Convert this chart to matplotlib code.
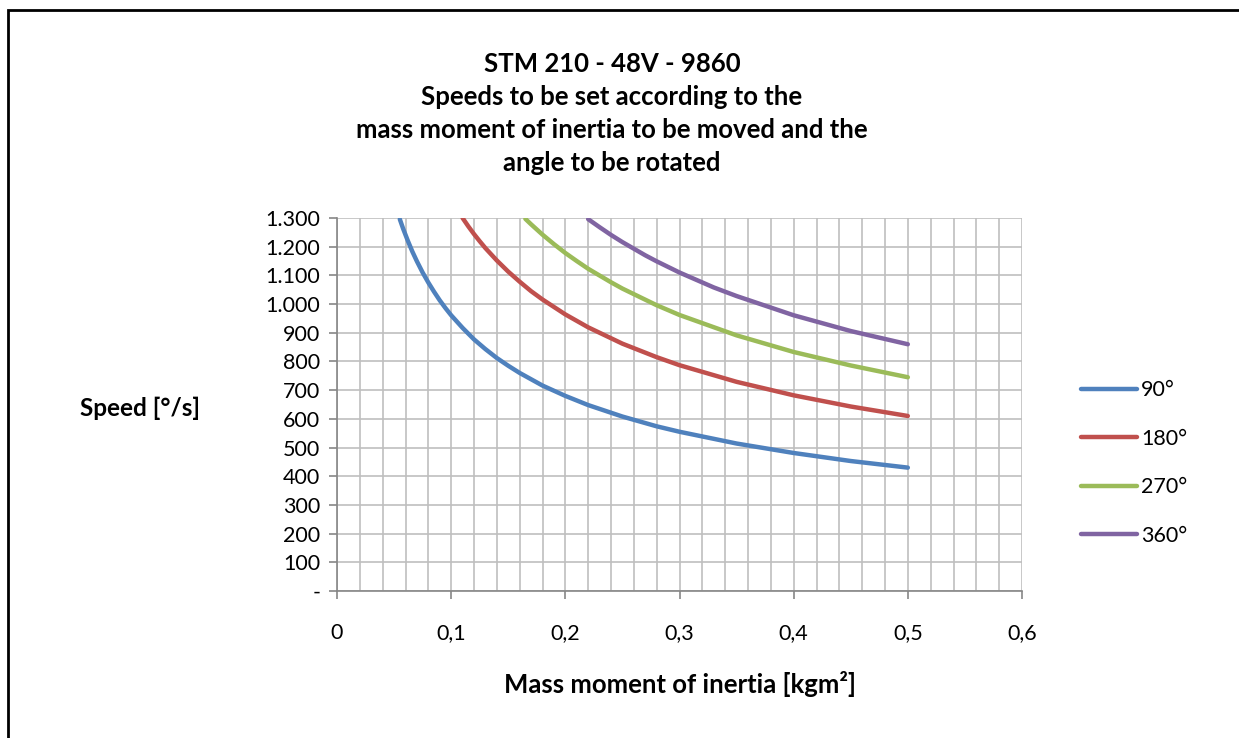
import matplotlib
matplotlib.use("Agg")
import matplotlib.pyplot as plt
from matplotlib.ticker import MultipleLocator, FuncFormatter
from matplotlib.patches import Rectangle

plt.rcParams['font.family'] = ['Lato', 'DejaVu Sans']

# values (inertia kgm², speed °/s)
j_90 = [0.055, 0.058, 0.062, 0.066, 0.07, 0.075, 0.08, 0.085, 0.09, 0.095, 0.10, 0.11, 0.12, 0.13,
        0.14, 0.15, 0.16, 0.18, 0.20, 0.22, 0.25, 0.28, 0.30, 0.35, 0.40, 0.45, 0.50]
v_90 = [1296, 1262, 1221, 1183, 1149, 1110, 1075, 1043, 1013, 986, 961, 917, 877, 843,
        812, 785, 760, 716, 680, 648, 608, 574, 555, 514, 481, 453, 430]

j_180 = [0.11, 0.115, 0.12, 0.125, 0.13, 0.14, 0.15, 0.16, 0.17, 0.18, 0.20, 0.22, 0.25, 0.28,
         0.30, 0.35, 0.40, 0.45, 0.50]
v_180 = [1300, 1271, 1244, 1219, 1195, 1152, 1113, 1078, 1045, 1016, 964, 919, 862, 815,
         787, 729, 682, 643, 610]

j_270 = [0.165, 0.17, 0.175, 0.18, 0.19, 0.20, 0.21, 0.22, 0.24, 0.25, 0.28, 0.30, 0.35, 0.40,
         0.45, 0.50]
v_270 = [1297, 1278, 1260, 1242, 1209, 1178, 1150, 1123, 1076, 1054, 996, 962, 891, 833,
         786, 745]

j_360 = [0.22, 0.23, 0.24, 0.25, 0.27, 0.28, 0.30, 0.33, 0.35, 0.40, 0.45, 0.50]
v_360 = [1296, 1268, 1241, 1216, 1170, 1149, 1110, 1058, 1028, 961, 906, 860]

labels = ['90°', '180°', '270°', '360°']
colors = ['#4F81BD', '#C0504D', '#9BBB59', '#8064A2']

title = ("STM 210 - 48V - 9860\nSpeeds to be set according to the\n"
         "mass moment of inertia to be moved and the\nangle to be rotated")

fig = plt.figure(figsize=(12.39, 7.38), dpi=100)
ax = fig.add_axes([337/1239, 1 - 591/738, (1022 - 337)/1239, (591 - 218)/738])

series = [(j_90, v_90), (j_180, v_180), (j_270, v_270), (j_360, v_360)]
for (x, y), lab, c in zip(series, labels, colors):
    ax.plot(x, y, color=c, lw=3.2, solid_capstyle='round', solid_joinstyle='round',
            label=lab, zorder=3)

ax.set_xlim(0, 0.6)
ax.set_ylim(0, 1300)
ax.xaxis.set_major_locator(MultipleLocator(0.1))
ax.xaxis.set_minor_locator(MultipleLocator(0.02))
ax.yaxis.set_major_locator(MultipleLocator(100))

ax.grid(True, which='both', axis='x', color='#BFBFBF', lw=1.2)
ax.grid(True, which='major', axis='y', color='#BFBFBF', lw=1.2)
ax.set_axisbelow(True)

for s in ['top', 'right']:
    ax.spines[s].set_visible(False)
for s in ['left', 'bottom']:
    ax.spines[s].set_color('#868686')
    ax.spines[s].set_linewidth(1.2)

ax.tick_params(axis='both', which='major', color='#868686', width=1.2, length=6,
               labelsize=15.5, pad=6)
ax.tick_params(axis='x', which='major', pad=17)
ax.tick_params(axis='x', which='minor', length=0)

ax.xaxis.set_major_formatter(FuncFormatter(lambda v, p: ('%g' % round(v, 2)).replace('.', ',')))
ax.yaxis.set_major_formatter(FuncFormatter(
    lambda v, p: '-' if v == 0 else '{:,.0f}'.format(v).replace(',', '.')))

ax.set_xlabel('Mass moment of inertia [kgm²]', fontsize=18.5, fontweight='bold', labelpad=20)
fig.text(140/1239, 1 - 408/738, 'Speed [°/s]', fontsize=17.5, fontweight='bold',
         ha='center', va='center')

fig.text(612/1239, 1 - 52/738, title, fontsize=18.5, fontweight='bold', ha='center', va='top',
         linespacing=1.45)

ax.legend(loc='center left', bbox_to_anchor=(1072/1239, 1 - 463/738),
          bbox_transform=fig.transFigure, frameon=False, fontsize=15.5,
          handlelength=2.6, handletextpad=0.2, labelspacing=1.33, borderaxespad=0)

fig.add_artist(Rectangle((8/1239, -0.1), 1.2, 1 - 10/738 + 0.1, transform=fig.transFigure,
                         fill=False, ec='black', lw=2))

fig.savefig('out.png', dpi=100)
